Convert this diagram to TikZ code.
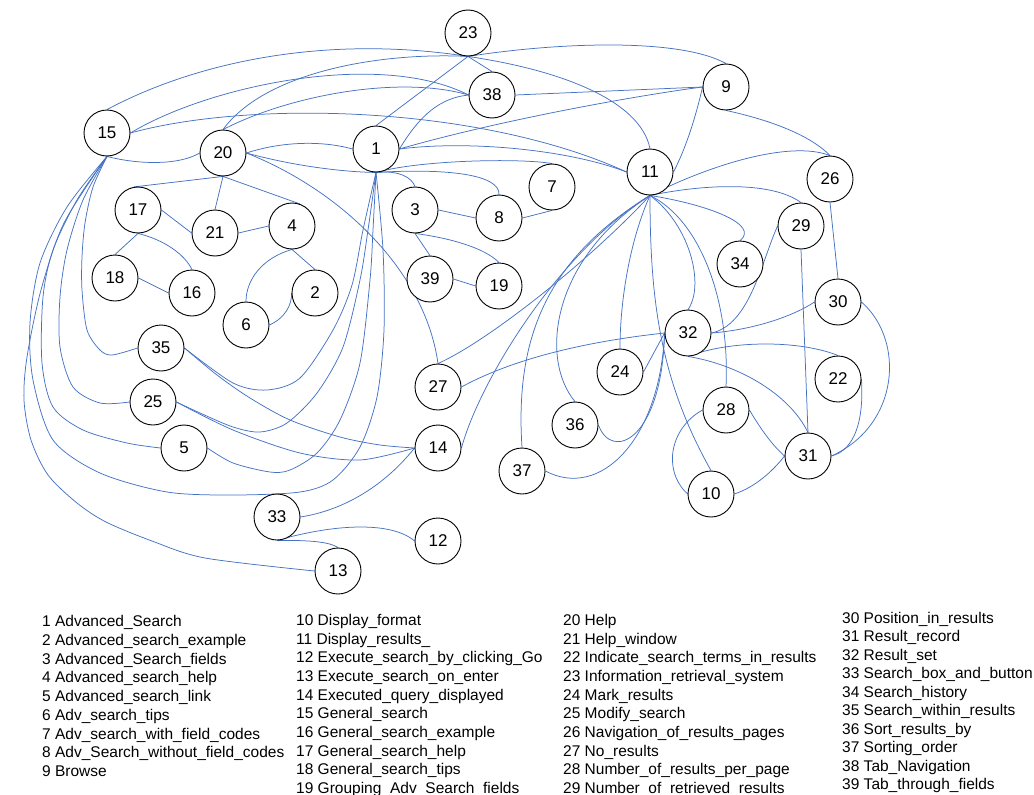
\documentclass[tikz,border=0pt]{standalone}
\usepackage{fontspec}
\setmainfont{Liberation Sans}
\usetikzlibrary{backgrounds}
\definecolor{linkblue}{RGB}{68,114,196}
\tikzset{
  vertex/.style={circle, draw=black, line width=0.9pt, fill=white, minimum size=46pt, inner sep=0pt,
    font=\fontsize{17}{20}\selectfont},
  link/.style={draw=linkblue, line width=0.75pt},
  legend/.style={anchor=base west, inner sep=0pt, font=\fontsize{15.5}{18}\selectfont}
}
\begin{document}
\begin{tikzpicture}[x=1pt, y=-1pt]
\useasboundingbox (0,0) rectangle (1034,795);

% concept nodes
\foreach \n/\px/\py in {1/376/149, 2/315/293, 3/415/210, 4/292/226, 5/184/448, 6/246/325,
  7/552/187, 8/499/218, 9/726/87, 10/711/494, 11/650/172, 12/438/541, 13/338/571,
  14/438/448, 15/107/133, 16/192/293, 17/138/210, 18/115/278, 19/499/286, 20/223/153,
  21/215/233, 22/838/379, 23/468/33, 24/620/372, 25/153/402, 26/830/179, 27/438/387,
  28/726/410, 29/801/226, 30/838/302, 31/808/456, 32/688/333, 33/277/517, 34/740/264,
  35/161/348, 36/575/425, 37/522/471, 38/492/95, 39/430/279}
  \node[vertex] (n\n) at (\px,\py) {\n};

\begin{scope}[on background layer]
% Information_retrieval_system
\draw[link] (n23.south) .. controls (330,35) and (200,60) .. (n15.north);
\draw[link] (n23.south) .. controls (380,52) and (265,72) .. (n20.north);
\draw[link] (n23.south) -- (n1.north);
\draw[link] (n23.south) -- (n38.north);
\draw[link] (n23.south) .. controls (560,42) and (680,38) .. (n9.north);
\draw[link] (n23.south) .. controls (560,70) and (640,100) .. (n11.north);

% General_search
\draw[link] (n15.east) .. controls (210,85) and (380,50) .. (n38.west);
\draw[link] (n15.east) .. controls (250,100) and (480,105) .. (n11.west);
\draw[link] (n15.south) .. controls (140,165) and (180,165) .. (n20.west);
\draw[link] plot[smooth] coordinates {(n15.south) (93,187) (85,223) (82,257) (82,290) (87,330) (100,350) (112,355) (n35.west)};
\draw[link] plot[smooth] coordinates {(n15.south) (83,200) (67,250) (60,297) (60,347) (73,387) (100,403) (n25.west)};
\draw[link] plot[smooth] coordinates {(n15.south) (77,200) (53,250) (43,297) (42,363) (53,407) (83,430) (127,443) (n5.west)};
\draw[link] plot[smooth] coordinates {(n15.south) (67,207) (40,263) (30,323) (33,380) (53,440) (100,473) (167,492) (233,495) (300,492) (333,480) (360,447) (377,397) (384,330) (383,250) (n1.south)};
\draw[link] plot[smooth] coordinates {(n15.south) (64,223) (41,290) (27,357) (24,400) (31,440) (48,475) (77,503) (106,522) (152,541) (205,558) (n13.west)};

% Help
\draw[link] (n20.north) .. controls (290,95) and (400,75) .. (n38.west);
\draw[link] (n20.east) .. controls (280,142) and (320,140) .. (n1.west);
\draw[link] (n20.east) .. controls (290,165) and (340,172) .. (n1.south);
\draw[link] (n20.east) .. controls (340,190) and (425,270) .. (n27.north);
\draw[link] (n20.south) -- (n17.100);
\draw[link] (n20.south) -- (n21.north);
\draw[link] (n20.south) -- (n4.70);
\draw[link] (n17.east) -- (n21.west);
\draw[link] (n17.south) -- (n18.north);
\draw[link] (n17.south) .. controls (165,240) and (185,255) .. (n16.north);
\draw[link] (n18.east) -- (n16.west);
\draw[link] (n21.east) -- (n4.west);
\draw[link] (n4.south) -- (n2.north);
\draw[link] (n4.south) .. controls (262,258) and (246,280) .. (n6.north);
\draw[link] (n6.east) .. controls (285,318) and (292,305) .. (n2.west);

% Advanced_Search
\draw[link] (n1.east) .. controls (420,115) and (440,98) .. (n38.west);
\draw[link] (n1.east) .. controls (500,120) and (640,95) .. (n9.west);
\draw[link] (n1.east) .. controls (470,140) and (570,150) .. (n11.west);
\draw[link] (n1.south) .. controls (400,170) and (412,178) .. (n3.north);
\draw[link] (n1.south) .. controls (450,168) and (500,175) .. (n8.north);
\draw[link] (n1.south) .. controls (420,160) and (520,158) .. (n7.north);
\draw[link] plot[smooth] coordinates {(n1.south) (363,230) (352,285) (333,330) (300,378) (267,390) (233,383) (n35.east)};
\draw[link] plot[smooth] coordinates {(n1.south) (368,230) (360,280) (343,347) (317,393) (287,423) (260,432) (233,427) (200,413) (n25.east)};
\draw[link] plot[smooth] coordinates {(n1.south) (373,230) (370,280) (360,363) (340,420) (317,453) (290,470) (270,472) (233,463) (n5.east)};
\draw[link] (n3.east) -- (n8.west);
\draw[link] (n3.south) -- (n39.north);
\draw[link] (n3.south) .. controls (450,238) and (485,248) .. (n19.north);
\draw[link] (n39.east) -- (n19.west);
\draw[link] (n8.east) -- (n7.south);

% Executed query and search box
\draw[link] plot[smooth] coordinates {(n35.east) (217,375) (250,398) (290,420) (340,437) (380,445) (n14.west)};
\draw[link] plot[smooth] coordinates {(n25.east) (233,430) (300,453) (360,460) (n14.west)};
\draw[link] (n33.east) .. controls (345,510) and (385,485) .. (n14.west);
\draw[link] (n33.south) .. controls (330,525) and (390,520) .. (n12.west);
\draw[link] (n33.south) .. controls (310,540) and (330,542) .. (n13.north);

% Browse
\draw[link] (n38.east) -- (n9.west);
\draw[link] (n9.west) .. controls (695,120) and (685,150) .. (n11.east);
\draw[link] (n9.south) .. controls (770,120) and (810,135) .. (n26.north);
\draw[link] (n26.south) -- (n30.north);

% Display_results_
\draw[link] (n14.east) .. controls (480,380) and (560,250) .. (n11.south);
\draw[link] (n27.north) .. controls (490,340) and (590,260) .. (n11.south);
\draw[link] (n37.north) .. controls (515,340) and (545,260) .. (n11.south);
\draw[link] (n36.north) .. controls (540,360) and (550,260) .. (n11.south);
\draw[link] (n11.south) .. controls (630,240) and (620,300) .. (n24.north);
\draw[link] (n11.south) .. controls (650,300) and (660,380) .. (n10.north);
\draw[link] (n11.south) .. controls (690,225) and (705,285) .. (n32.north);
\draw[link] (n11.south) .. controls (700,220) and (730,300) .. (n28.north);
\draw[link] (n11.south) .. controls (710,205) and (760,225) .. (n34.north);
\draw[link] (n11.south) .. controls (700,185) and (770,180) .. (n29.north);
\draw[link] (n11.south) .. controls (710,165) and (790,140) .. (n26.north);

% Result_set and Result_record
\draw[link] (n27.east) .. controls (520,355) and (600,340) .. (n32.west);
\draw[link] (n24.east) -- (n32.west);
\draw[link] (n36.east) .. controls (612,462) and (662,440) .. (n32.west);
\draw[link] (n37.east) .. controls (600,500) and (660,440) .. (n32.west);
\draw[link] (n32.east) .. controls (750,330) and (790,318) .. (n30.west);
\draw[link] (n32.east) .. controls (750,325) and (762,260) .. (n29.west);
\draw[link] (n32.south) .. controls (730,340) and (800,340) .. (n22.north);
\draw[link] (n32.south) .. controls (740,365) and (790,395) .. (n31.north);
\draw[link] (n29.south) -- (n31.north);
\draw[link] (n30.east) .. controls (905,340) and (900,425) .. (n31.east);
\draw[link] (n22.east) .. controls (864,420) and (855,450) .. (n31.east);
\draw[link] (n28.east) .. controls (760,428) and (772,445) .. (n31.west);
\draw[link] (n28.west) .. controls (670,428) and (662,470) .. (n10.west);
\draw[link] (n10.east) .. controls (755,487) and (772,472) .. (n31.west);
\end{scope}

% key to the node numbers
\foreach \n/\t [count=\k from 0] in {1/Advanced\_Search, 2/Advanced\_search\_example,
  3/Advanced\_Search\_fields, 4/Advanced\_search\_help, 5/Advanced\_search\_link,
  6/Adv\_search\_tips, 7/Adv\_search\_with\_field\_codes, 8/Adv\_Search\_without\_field\_codes, 9/Browse}
  \node[legend] (key\n) at (42, 626.5+\k*18.75) {\n\ \t};
\foreach \n/\t [count=\k from 0] in {10/Display\_format, 11/Display\_results\_,
  12/Execute\_search\_by\_clicking\_Go, 13/Execute\_search\_on\_enter, 14/Executed\_query\_displayed,
  15/General\_search, 16/General\_search\_example, 17/General\_search\_help,
  18/General\_search\_tips, 19/Grouping\_Adv\_Search\_fields}
  \node[legend] (key\n) at (296, 625.5+\k*18.67) {\n\ \t};
\foreach \n/\t [count=\k from 0] in {20/Help, 21/Help\_window, 22/Indicate\_search\_terms\_in\_results,
  23/Information\_retrieval\_system, 24/Mark\_results, 25/Modify\_search,
  26/Navigation\_of\_results\_pages, 27/No\_results, 28/Number\_of\_results\_per\_page,
  29/Number\_of\_retrieved\_results}
  \node[legend] (key\n) at (563, 625.5+\k*18.67) {\n\ \t};
\foreach \n/\t [count=\k from 0] in {30/Position\_in\_results, 31/Result\_record, 32/Result\_set,
  33/Search\_box\_and\_button, 34/Search\_history, 35/Search\_within\_results,
  36/Sort\_results\_by, 37/Sorting\_order, 38/Tab\_Navigation, 39/Tab\_through\_fields}
  \node[legend] (key\n) at (842, 623.5+\k*18.45) {\n\ \t};
\end{tikzpicture}
\end{document}
